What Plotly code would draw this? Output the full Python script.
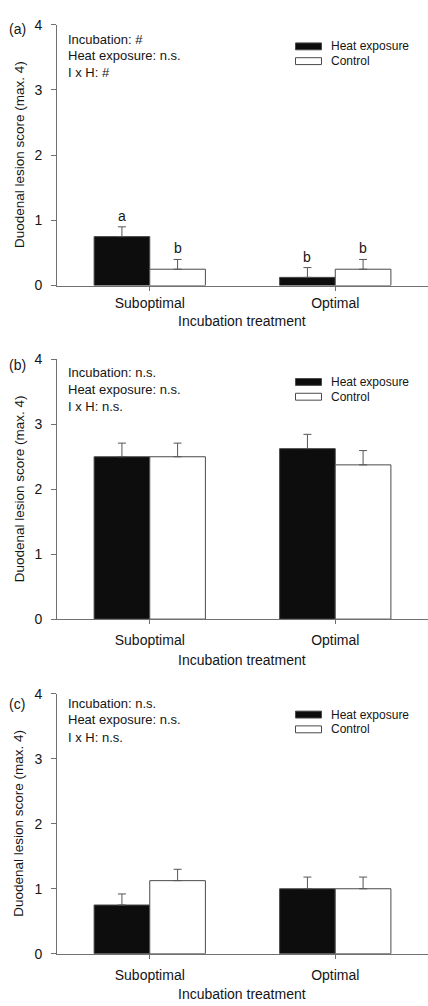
import plotly.graph_objects as go

# Incubation treatment groups
categories = ["Suboptimal", "Optimal"]

# Duodenal lesion score means and standard errors, per panel
heat_a = [0.75, 0.125]
ctrl_a = [0.25, 0.25]
heat_err_a = [0.15, 0.15]
ctrl_err_a = [0.15, 0.15]
letters_heat_a = ["a", "b"]
letters_ctrl_a = ["b", "b"]

heat_b = [2.5, 2.625]
ctrl_b = [2.5, 2.375]
heat_err_b = [0.21, 0.22]
ctrl_err_b = [0.21, 0.22]

heat_c = [0.75, 1.0]
ctrl_c = [1.125, 1.0]
heat_err_c = [0.17, 0.18]
ctrl_err_c = [0.175, 0.18]

panel_labels = ["(a)", "(b)", "(c)"]
stats_a = ["Incubation: #", "Heat exposure: n.s.", "I x H: #"]
stats_b = ["Incubation: n.s.", "Heat exposure: n.s.", "I x H: n.s."]
stats_c = ["Incubation: n.s.", "Heat exposure: n.s.", "I x H: n.s."]
y_ticks = [0, 1, 2, 3, 4]

W, H = 428, 1006
FONT = "Liberation Sans, Arial, sans-serif"
TXT = "#151515"
AX = "#707070"
EDGE = "#4a4a4a"
BLACK = "#0d0d0d"

# pixel layout of each panel: (top, bottom, x-title offset, tick standoff, stats offsets)
panels = [
    dict(top=17, bot=282, heat=heat_a, ctrl=ctrl_a, he=heat_err_a, ce=ctrl_err_a,
         stats=stats_a, xt=36.5, tso=1, st=[14.7, 31.3, 48.7], lg=[22, 37], lab=21),
    dict(top=357, bot=621, heat=heat_b, ctrl=ctrl_b, he=heat_err_b, ce=ctrl_err_b,
         stats=stats_b, xt=41.5, tso=4, st=[13.7, 30.7, 48], lg=[23, 38], lab=363),
    dict(top=697, bot=961, heat=heat_c, ctrl=ctrl_c, he=heat_err_c, ce=ctrl_err_c,
         stats=stats_c, xt=41, tso=4, st=[9.7, 26.3, 44], lg=[21, 36], lab=707),
]

X0 = 57
x_dom = [X0 / W, 1.0]


def py(p):
    """pixel row -> paper y"""
    return 1 - p / H


def px(p):
    return p / W


fig = go.Figure()
annotations = []
shapes = []

for i, p in enumerate(panels):
    n = "" if i == 0 else str(i + 1)
    xa, ya = "x" + n, "y" + n
    for vals, errs, color, name in [
        (p["heat"], p["he"], BLACK, "Heat exposure"),
        (p["ctrl"], p["ce"], "white", "Control"),
    ]:
        fig.add_trace(go.Bar(
            x=categories, y=vals, name=name, xaxis=xa, yaxis=ya,
            marker=dict(color=color, line=dict(color=EDGE, width=1)),
            error_y=dict(type="data", array=errs, arrayminus=[0] * len(errs),
                         symmetric=False, color="#555555", thickness=1, width=4),
            showlegend=False,
        ))

    dom = [py(p["bot"]), py(p["top"])]
    fig.update_layout(**{
        ("xaxis" + n): dict(
            domain=x_dom, anchor=ya, range=[-0.5, 1.5], type="category",
            showline=True, linecolor=AX, linewidth=1, ticks="outside",
            ticklen=4, tickcolor=AX, ticklabelstandoff=p["tso"],
            tickfont=dict(family=FONT, size=14, color=TXT),
            showgrid=False, zeroline=False, fixedrange=True),
        ("yaxis" + n): dict(
            domain=dom, anchor=xa, range=[0, 4], tickvals=y_ticks,
            showline=True, linecolor=AX, linewidth=1, ticks="outside",
            ticklen=5, tickcolor=AX, ticklabelstandoff=6,
            tickfont=dict(family=FONT, size=14, color=TXT),
            showgrid=False, zeroline=False, fixedrange=True),
    })

    # significance letters above the error bars (panel a)
    if i == 0:
        for k, cat in enumerate(categories):
            annotations.append(dict(
                x=cat, y=p["heat"][k] + p["he"][k], xref=xa, yref=ya,
                text=letters_heat_a[k], showarrow=False, xshift=-28, yshift=11,
                yanchor="middle", font=dict(family=FONT, size=14, color=TXT)))
            annotations.append(dict(
                x=cat, y=p["ctrl"][k] + p["ce"][k], xref=xa, yref=ya,
                text=letters_ctrl_a[k], showarrow=False, xshift=28, yshift=11,
                yanchor="middle", font=dict(family=FONT, size=14, color=TXT)))

    # statistics summary text
    for line, off in zip(p["stats"], p["st"]):
        annotations.append(dict(
            x=px(66), y=py(p["top"] + off), xref="paper", yref="paper",
            text=line, showarrow=False, xanchor="left", yanchor="middle",
            font=dict(family=FONT, size=13, color=TXT)))

    # legend: swatches and labels
    for (fill, label), off in zip([(BLACK, "Heat exposure"), ("white", "Control")], p["lg"]):
        yc = p["top"] + off
        shapes.append(dict(
            type="rect", xref="paper", yref="paper",
            x0=px(295.5), x1=px(321.5), y0=py(yc + 3.5), y1=py(yc - 3.5),
            fillcolor=fill, line=dict(color=EDGE, width=1)))
        annotations.append(dict(
            x=px(329), y=py(yc), xref="paper", yref="paper", text=label,
            showarrow=False, xanchor="left", yanchor="middle",
            font=dict(family=FONT, size=12, color=TXT)))

    # panel label
    annotations.append(dict(
        x=px(17), y=py(p["lab"]), xref="paper", yref="paper", text=panel_labels[i],
        showarrow=False, xanchor="center", yanchor="middle",
        font=dict(family=FONT, size=14, color=TXT)))

    # axis titles
    annotations.append(dict(
        x=px(19), y=py((p["top"] + p["bot"]) / 2), xref="paper", yref="paper",
        text="Duodenal lesion score (max. 4)", textangle=-90, showarrow=False,
        xanchor="center", yanchor="middle",
        font=dict(family=FONT, size=13.5, color=TXT)))
    annotations.append(dict(
        x=px((X0 + W) / 2), y=py(p["bot"] + p["xt"]), xref="paper", yref="paper",
        text="Incubation treatment", showarrow=False,
        xanchor="center", yanchor="middle",
        font=dict(family=FONT, size=14, color=TXT)))

fig.update_layout(
    width=W, height=H, margin=dict(l=0, r=0, t=0, b=0),
    barmode="group", bargap=0.4, bargroupgap=0,
    plot_bgcolor="white", paper_bgcolor="white",
    annotations=annotations, shapes=shapes, showlegend=False,
)

fig.write_html("out.html", config={"displayModeBar": False})
